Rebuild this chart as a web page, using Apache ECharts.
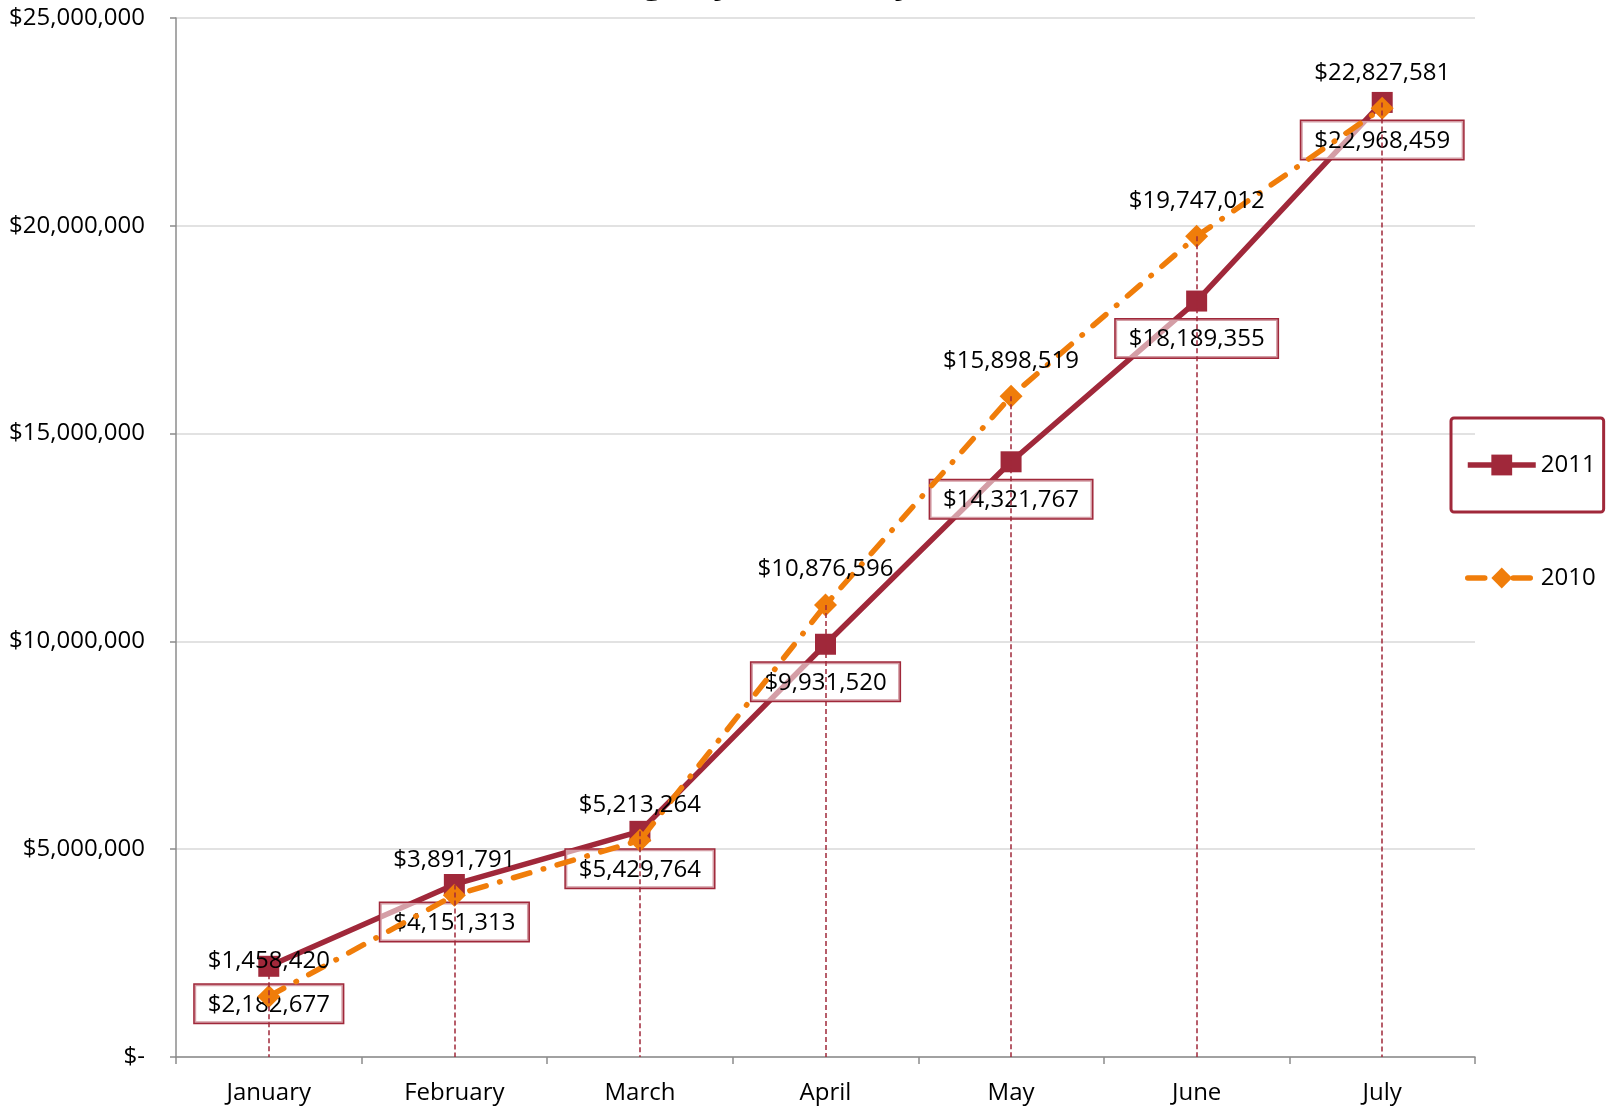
<!DOCTYPE html>
<html>
<head>
<meta charset="utf-8">
<script src="https://cdn.jsdelivr.net/npm/echarts@6/dist/echarts.min.js"></script>
<style>
  html, body { margin: 0; padding: 0; background: #fff; }
  #chart { width: 1607px; height: 1108px; }
</style>
</head>
<body>
<div id="chart"></div>
<script>
// data
var months = ["January", "February", "March", "April", "May", "June", "July"];
var sales2011 = [2182677, 4151313, 5429764, 9931520, 14321767, 18189355, 22968459];
var sales2010 = [1458420, 3891791, 5213264, 10876596, 15898519, 19747012, 22827581];
var yTicks = [0, 5000000, 10000000, 15000000, 20000000, 25000000];

var red = "#A0283A";
var orange = "#F07D0A";
var font = "Open Sans";

function money(v) {
  return "$" + Math.round(v).toLocaleString("en-US");
}

// drop lines from the higher of the two points down to the axis
var dropLines = [];
for (var i = 0; i < months.length; i++) {
  var highest = Math.max(sales2011[i], sales2010[i]);
  dropLines.push([{ coord: [months[i], highest] }, { coord: [months[i], 0] }]);
}

var myChart = echarts.init(document.getElementById("chart"));

var option = {
  animation: false,
  textStyle: { fontFamily: font },
  title: {
    text: "Cumulative Billings by Month by Year, 2010 vs 2011",
    left: 330,
    top: -41,
    textStyle: { fontSize: 36, fontWeight: "bold", color: "#000", fontFamily: font }
  },
  grid: { left: 176, right: 132, top: 18, bottom: 51 },
  legend: [
    {
      data: ["2011"],
      left: 1451,
      top: 418,
      orient: "vertical",
      borderColor: red,
      borderWidth: 3,
      borderRadius: 3,
      padding: [35, 8, 35, 14],
      itemWidth: 68,
      itemHeight: 26,
      itemGap: 6,
      lineStyle: { width: 5.5 },
      textStyle: { fontSize: 24, color: "#000", fontFamily: font }
    },
    {
      data: ["2010"],
      left: 1451,
      top: 564,
      orient: "vertical",
      padding: [2, 8, 2, 14],
      itemWidth: 68,
      itemHeight: 26,
      itemGap: 6,
      lineStyle: { width: 5.5 },
      textStyle: { fontSize: 24, color: "#000", fontFamily: font }
    }
  ],
  xAxis: {
    type: "category",
    data: months,
    boundaryGap: true,
    axisLine: { lineStyle: { color: "#8C8C8C", width: 1.5 } },
    axisTick: { show: true, length: 7, lineStyle: { color: "#8C8C8C", width: 1.5 } },
    axisLabel: { fontSize: 24, color: "#000", margin: 24, fontFamily: font }
  },
  yAxis: {
    type: "value",
    min: yTicks[0],
    max: yTicks[yTicks.length - 1],
    interval: yTicks[1] - yTicks[0],
    axisLine: { show: true, lineStyle: { color: "#8C8C8C", width: 1.5 } },
    axisTick: { show: true, length: 6, lineStyle: { color: "#8C8C8C", width: 1.5 } },
    splitLine: { lineStyle: { color: "#D9D9D9", width: 1.5 } },
    axisLabel: {
      fontSize: 24,
      color: "#000",
      margin: 31,
      fontFamily: font,
      formatter: function (v) {
        return v === 0 ? "$-" : money(v);
      }
    }
  },
  series: [
    {
      name: "2011",
      type: "line",
      data: sales2011,
      z: 2,
      symbol: "rect",
      symbolSize: 21,
      itemStyle: { color: red },
      lineStyle: { color: red, width: 5.5 },
      label: {
        show: true,
        position: "bottom",
        distance: 8,
        fontSize: 24,
        color: "#000",
        fontFamily: font,
        backgroundColor: "rgba(255,255,255,0.55)",
        borderColor: red,
        borderWidth: 1.5,
        padding: [8, 13, 6, 13],
        formatter: function (p) { return money(p.value); }
      },
      emphasis: { disabled: true }
    },
    {
      name: "2010",
      type: "line",
      data: sales2010,
      z: 3,
      symbol: "diamond",
      symbolSize: 23,
      itemStyle: { color: orange },
      lineStyle: { color: orange, width: 5.5, type: [17, 14, 0.5, 14], cap: "round" },
      label: {
        show: true,
        position: "top",
        distance: 12,
        fontSize: 24,
        color: "#000",
        fontFamily: font,
        formatter: function (p) { return money(p.value); }
      },
      emphasis: { disabled: true },
      markLine: {
        silent: true,
        symbol: "none",
        label: { show: false },
        lineStyle: { color: red, width: 1.5, type: [5, 3] },
        data: dropLines
      }
    }
  ]
};

myChart.setOption(option);
</script>
</body>
</html>
